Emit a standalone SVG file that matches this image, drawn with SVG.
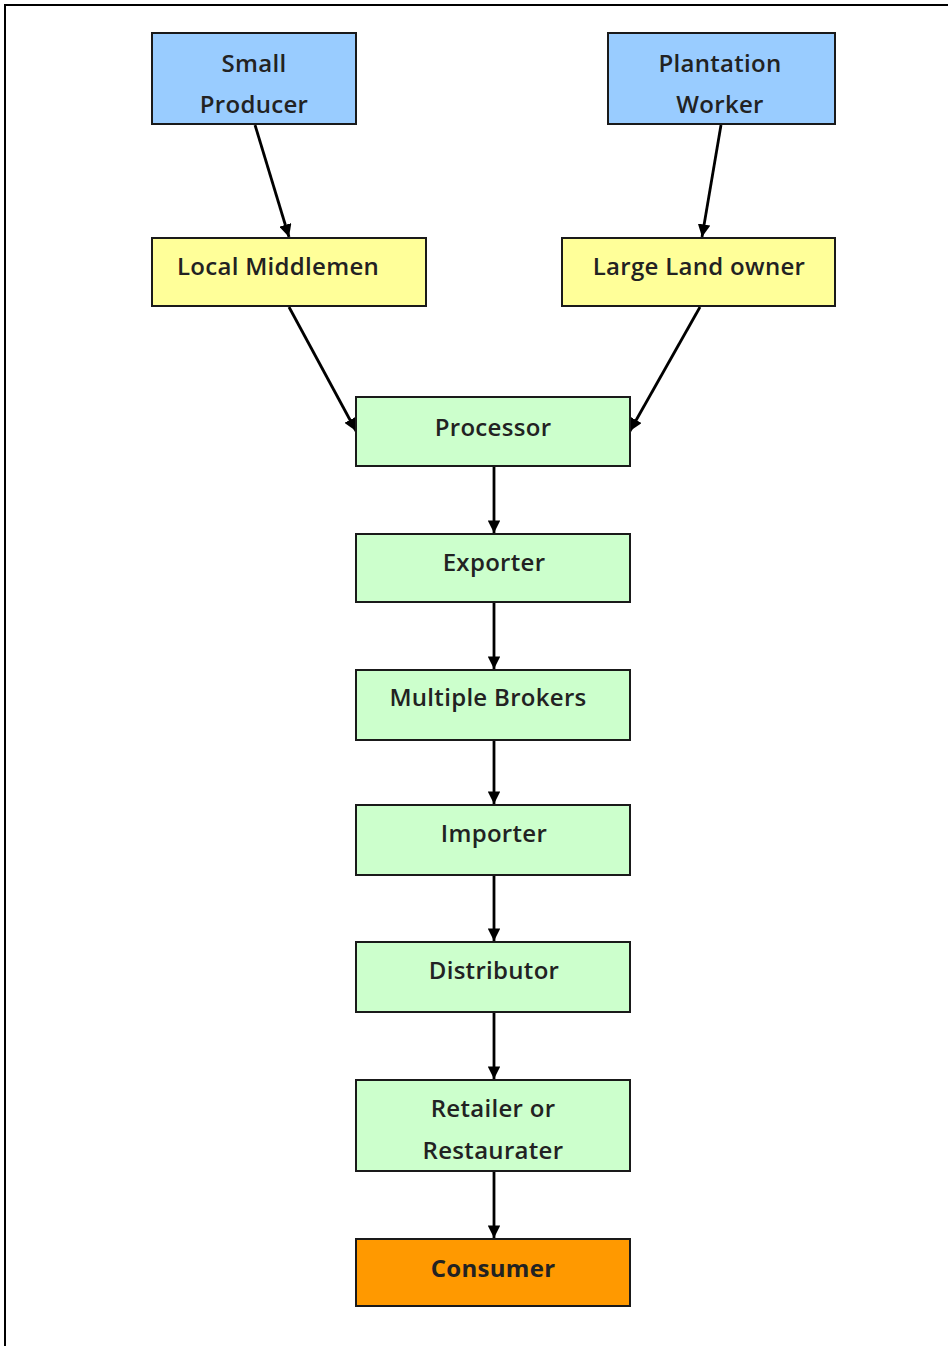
<svg xmlns="http://www.w3.org/2000/svg" width="948" height="1346" viewBox="0 0 948 1346">
<style>
.box{stroke:#1a1a1a;stroke-width:2}
.blue{fill:#99CCFF}
.yellow{fill:#FFFF99}
.green{fill:#CCFFCC}
.orange{fill:#FF9900}
text{font-family:"Open Sans","Liberation Sans",sans-serif;font-size:24px;font-weight:600;fill:#222;text-anchor:middle;letter-spacing:0.3px}
.bold{font-weight:bold}
.conn{stroke:#000;stroke-width:2.8;fill:none;marker-end:url(#ah)}
</style>
<defs>
<marker id="ah" viewBox="0 0 10 10" refX="10" refY="5" markerWidth="4.5" markerHeight="4.5" orient="auto" markerUnits="strokeWidth">
<path d="M0,0 L10,5 L0,10 z" fill="#000"/>
</marker>
</defs>
<rect x="0" y="0" width="948" height="1346" fill="#fff"/>
<path d="M5,1346 V5 H948" stroke="#000" stroke-width="2" fill="none"/>
<g id="connectors">
<line class="conn" x1="255" y1="125" x2="289" y2="237"/>
<line class="conn" x1="721" y1="125" x2="702" y2="237"/>
<line class="conn" x1="289" y1="307" x2="356" y2="431"/>
<line class="conn" x1="700" y1="307" x2="630" y2="431"/>
<line class="conn" x1="494" y1="467" x2="494" y2="533"/>
<line class="conn" x1="494" y1="603" x2="494" y2="669"/>
<line class="conn" x1="494" y1="741" x2="494" y2="804"/>
<line class="conn" x1="494" y1="876" x2="494" y2="941"/>
<line class="conn" x1="494" y1="1013" x2="494" y2="1079"/>
<line class="conn" x1="494" y1="1172" x2="494" y2="1238"/>
</g>
<g id="small-producer"><rect class="box blue" x="152" y="33" width="204" height="91"/><text x="254" y="72">Small</text><text x="254" y="113">Producer</text></g>
<g id="plantation-worker"><rect class="box blue" x="608" y="33" width="227" height="91"/><text x="720" y="72">Plantation</text><text x="720" y="113">Worker</text></g>
<g id="local-middlemen"><rect class="box yellow" x="152" y="238" width="274" height="68"/><text x="278" y="275">Local Middlemen</text></g>
<g id="large-land-owner"><rect class="box yellow" x="562" y="238" width="273" height="68"/><text x="699" y="275">Large Land owner</text></g>
<g id="processor"><rect class="box green" x="356" y="397" width="274" height="69"/><text x="493" y="436">Processor</text></g>
<g id="exporter"><rect class="box green" x="356" y="534" width="274" height="68"/><text x="494" y="571">Exporter</text></g>
<g id="multiple-brokers"><rect class="box green" x="356" y="670" width="274" height="70"/><text x="488" y="706">Multiple Brokers</text></g>
<g id="importer"><rect class="box green" x="356" y="805" width="274" height="70"/><text x="494" y="842">Importer</text></g>
<g id="distributor"><rect class="box green" x="356" y="942" width="274" height="70"/><text x="494" y="979">Distributor</text></g>
<g id="retailer"><rect class="box green" x="356" y="1080" width="274" height="91"/><text x="493" y="1117">Retailer or</text><text x="493" y="1159">Restaurater</text></g>
<g id="consumer"><rect class="box orange" x="356" y="1239" width="274" height="67"/><text class="bold" x="493" y="1277">Consumer</text></g>
</svg>
